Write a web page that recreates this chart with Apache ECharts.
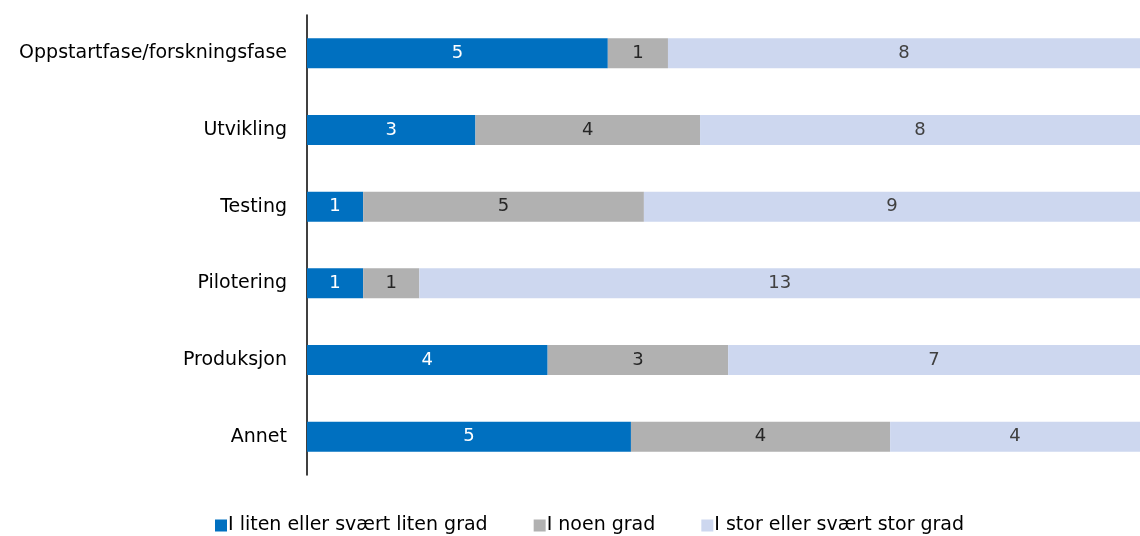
<!DOCTYPE html>
<html><head><meta charset="utf-8">
<script src="https://cdn.jsdelivr.net/npm/echarts@6/dist/echarts.min.js"></script>
<style>html,body{margin:0;padding:0;background:#fff}#c{width:1140px;height:536px}</style>
</head><body><div id="c"></div>
<script>
const categories = ["Oppstartfase/forskningsfase","Utvikling","Testing","Pilotering","Produksjon","Annet"];
const seriesNames = ["I liten eller svært liten grad","I noen grad","I stor eller svært stor grad"];
const lowValues = [5,3,1,1,4,5];
const midValues = [1,4,5,1,3,4];
const highValues = [8,8,9,13,7,4];

const raw = [lowValues, midValues, highValues];
const totals = categories.map((_, i) => lowValues[i] + midValues[i] + highValues[i]);
const colors = ["#0070C0","#B1B1B1","#CDD7EF"];
const labelColors = ["#ffffff","#262626","#404040"];
const FONT = "DejaVu Sans";

const chart = echarts.init(document.getElementById('c'));
chart.setOption({
  animation:false,
  textStyle:{fontFamily:FONT},
  grid:{left:307,right:0,top:15,bottom:61,containLabel:false},
  legend:{
    top:511,left:210,itemWidth:12,itemHeight:12,itemGap:46,icon:'rect',
    textStyle:{fontSize:19,color:'#000',fontFamily:FONT,padding:[0,0,0,-4]},
    data:seriesNames
  },
  xAxis:{type:'value',min:0,max:98.9,show:false},
  yAxis:{type:'category',data:categories,inverse:true,
    axisLine:{lineStyle:{color:'#000',width:1.5}},axisTick:{show:false},
    axisLabel:{fontSize:19,color:'#000',margin:20,fontFamily:FONT}},
  series: raw.map((arr, si) => ({
    name: seriesNames[si], type:'bar', stack:'t', barWidth:30, clip:true,
    itemStyle:{color:colors[si]},
    data: arr.map((v,i)=>({value: v/totals[i]*100, raw:v})),
    label:{show:true,position:'inside',fontSize:18,color:labelColors[si],fontFamily:FONT,
      formatter:p=>p.data.raw}
  }))
});
</script></body></html>
